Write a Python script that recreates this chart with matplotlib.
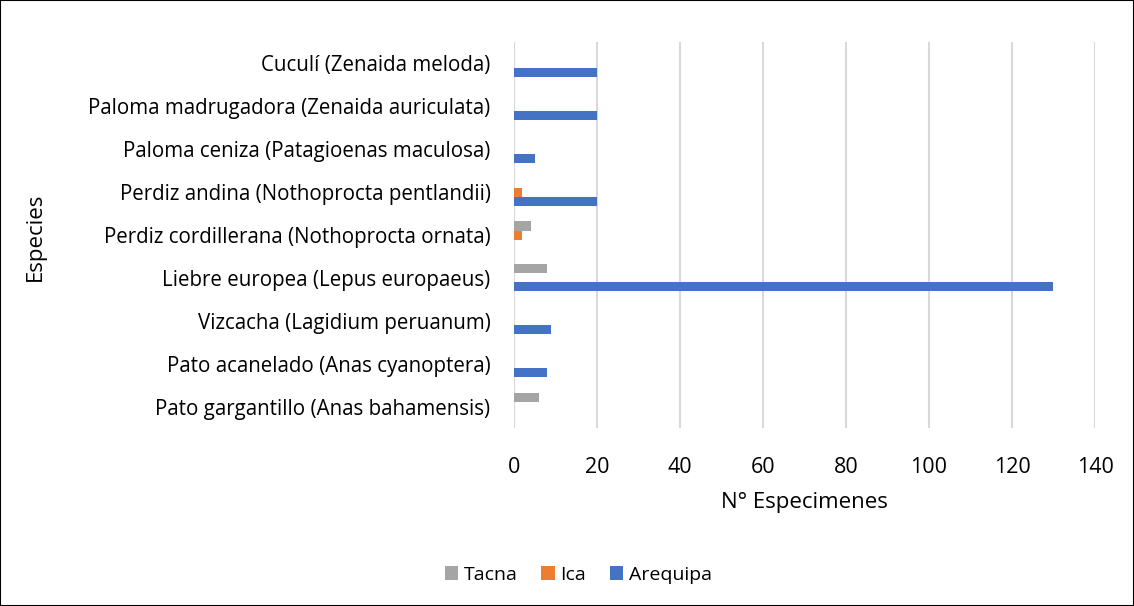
import numpy as np
import matplotlib.pyplot as plt
from matplotlib.patches import Rectangle

plt.rcParams['font.family'] = ['Open Sans', 'DejaVu Sans']

# categories bottom to top
especies = ['Pato gargantillo (Anas bahamensis)',
            'Pato acanelado (Anas cyanoptera)',
            'Vizcacha (Lagidium peruanum)',
            'Liebre europea (Lepus europaeus)',
            'Perdiz cordillerana (Nothoprocta ornata)',
            'Perdiz andina (Nothoprocta pentlandii)',
            'Paloma ceniza (Patagioenas maculosa)',
            'Paloma madrugadora (Zenaida auriculata)',
            'Cuculí (Zenaida meloda)']
tacna = [6, 0, 0, 8, 4, 0, 0, 0, 0]
ica = [0, 0, 0, 0, 2, 2, 0, 0, 0]
arequipa = [0, 8, 9, 130, 0, 20, 5, 20, 20]

fig = plt.figure(figsize=(11.34, 6.06), dpi=100)
ax = fig.add_axes([0.4533, 0.2937, 0.5123, 0.637])

y = np.arange(len(especies))
h = 0.21
ax.barh(y + h, tacna, height=h, color='#a5a5a5', label='Tacna', zorder=3)
ax.barh(y, ica, height=h, color='#ed7d31', label='Ica', zorder=3)
ax.barh(y - h, arequipa, height=h, color='#4472c4', label='Arequipa', zorder=3)

ax.set_xlim(0, 140)
ax.set_ylim(-0.5, len(especies) - 0.5)
ax.set_xticks(np.arange(0, 141, 20))
ax.set_yticks(y)
ax.set_yticklabels(especies)
ax.grid(axis='x', color='#d9d9d9', linewidth=1.5, zorder=0)
for s in ax.spines.values():
    s.set_visible(False)
ax.tick_params(axis='both', length=0, colors='#000000')
ax.tick_params(axis='y', pad=17, labelsize=14.8)
ax.tick_params(axis='x', pad=21, labelsize=15.5)
ax.set_xlabel('N° Especimenes', fontsize=16, labelpad=10)
fig.text(0.031, 0.61, 'Especies', rotation=90, fontsize=16,
         ha='center', va='center')

handles, labels = ax.get_legend_handles_labels()
fig.legend(handles, labels, loc='center', bbox_to_anchor=(0.51, 0.051), ncol=3,
           frameon=False, fontsize=14, handlelength=0.7, handleheight=0.7,
           handletextpad=0.3, columnspacing=1.2)

fig.patches.append(Rectangle((0, 0), 1, 1, transform=fig.transFigure,
                             fill=False, edgecolor='black', linewidth=1.5))

plt.savefig('out.png', dpi=100)
